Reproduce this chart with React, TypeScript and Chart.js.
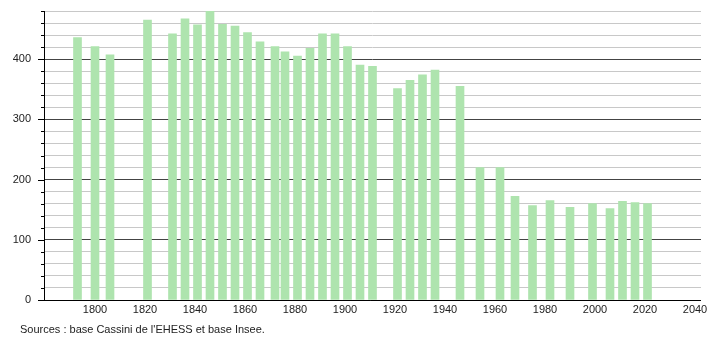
import React, { useEffect, useRef } from "react";
import { Chart, registerables } from "chart.js";

Chart.register(...registerables);

const years = [1793, 1800, 1806, 1821, 1831, 1836, 1841, 1846, 1851, 1856, 1861, 1866, 1872, 1876, 1881, 1886, 1891, 1896, 1901, 1906, 1911, 1921, 1926, 1931, 1936, 1946, 1954, 1962, 1968, 1975, 1982, 1990, 1999, 2006, 2011, 2016, 2021];
const population = [436, 421, 407, 465, 442, 467, 457, 480, 458, 455, 444, 429, 421, 412, 405, 418, 442, 442, 421, 390, 388, 351, 365, 374, 382, 355, 220, 220, 172, 157, 165, 154, 160, 152, 164, 162, 160];
const xTickLabels = [1800, 1820, 1840, 1860, 1880, 1900, 1920, 1940, 1960, 1980, 2000, 2020, 2040];
const sourceText = "Sources : base Cassini de l'EHESS et base Insee.";

const FONT = "'Liberation Sans', Arial, sans-serif";

export default function App() {
  const ref = useRef<HTMLCanvasElement | null>(null);

  useEffect(() => {
    document.body.style.margin = "0";
    const ctx = ref.current!.getContext("2d")!;

    const tickPlugin = {
      id: "yTicks",
      afterDraw(chart: any) {
        const y = chart.scales.y;
        const c = chart.ctx;
        const left = chart.chartArea.left;
        c.save();
        c.strokeStyle = "#000";
        c.lineWidth = 1;
        for (let v = 0; v <= 480; v += 20) {
          const py = Math.round(y.getPixelForValue(v)) + 0.5;
          const len = v % 100 === 0 ? 6 : 3;
          c.beginPath();
          c.moveTo(left - len, py);
          c.lineTo(left, py);
          c.stroke();
        }
        c.beginPath();
        c.moveTo(left + 0.5, chart.chartArea.top);
        c.lineTo(left + 0.5, chart.chartArea.bottom);
        c.stroke();
        const by = Math.round(y.getPixelForValue(0)) + 0.5;
        c.beginPath();
        c.moveTo(left - 4, by);
        c.lineTo(chart.chartArea.right, by);
        c.stroke();
        c.restore();
      },
    };

    const chart = new Chart(ctx, {
      type: "bar",
      data: {
        datasets: [
          {
            data: years.map((yr, i) => ({ x: yr, y: population[i] })),
            backgroundColor: "#aee4ae",
            borderWidth: 0,
            barThickness: 8,
          },
        ],
      },
      options: {
        animation: false,
        responsive: false,
        maintainAspectRatio: false,
        layout: { padding: { top: 11, right: 9, left: 0, bottom: 0 } },
        plugins: { legend: { display: false }, tooltip: { enabled: false } },
        scales: {
          x: {
            type: "linear",
            offset: false,
            min: 1779.6,
            max: 2042.4,
            afterFit(scale: any) {
              scale.height = 40;
              scale.paddingLeft = 0;
              scale.paddingRight = 0;
            },
            afterBuildTicks(scale: any) {
              scale.ticks = xTickLabels.map((v) => ({ value: v }));
            },
            grid: { display: false, drawTicks: false, offset: false },
            border: { display: false },
            ticks: {
              padding: 3,
              color: "#222",
              font: { family: FONT, size: 11 },
              maxRotation: 0,
              autoSkip: false,
              callback: (v: any) => String(v),
            },
          },
          y: {
            min: 0,
            max: 480,
            afterFit(scale: any) {
              scale.width = 44;
              scale.paddingTop = 0;
              scale.paddingBottom = 0;
            },
            grid: {
              drawTicks: false,
              color: (c: any) => (c.tick && c.tick.value % 100 === 0 ? "#444" : "#c8c8c8"),
              lineWidth: 1,
            },
            border: { display: false },
            ticks: {
              stepSize: 20,
              padding: 13,
              color: "#222",
              font: { family: FONT, size: 11 },
              autoSkip: false,
              callback: (v: any) => (v % 100 === 0 ? String(v) : ""),
            },
          },
        },
      },
      plugins: [tickPlugin],
    });
    return () => chart.destroy();
  }, []);

  return (
    <div style={{ position: "relative", width: 710, height: 340, background: "#fff" }}>
      <canvas ref={ref} width={710} height={340} style={{ display: "block" }} />
      <div
        style={{
          position: "absolute",
          left: 20,
          top: 323,
          fontFamily: FONT,
          fontSize: 11,
          color: "#222",
          whiteSpace: "nowrap",
        }}
      >
        {sourceText}
      </div>
    </div>
  );
}
